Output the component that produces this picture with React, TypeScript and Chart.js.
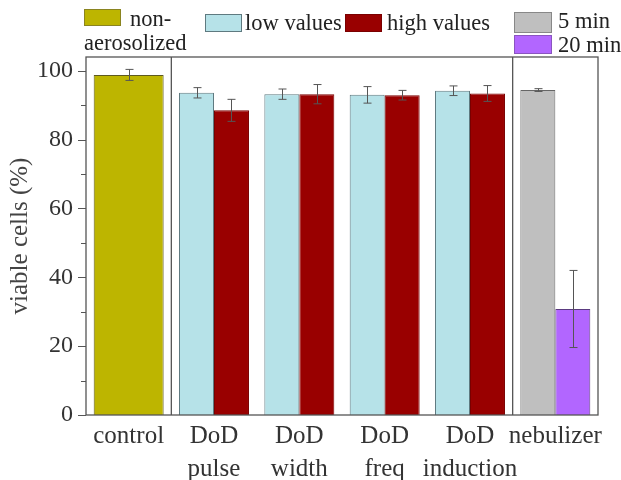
import { useEffect, useRef } from 'react';
import { Chart, registerables } from 'chart.js';
Chart.register(...registerables);

const categories = [['control'], ['DoD', 'pulse'], ['DoD', 'width'], ['DoD', 'freq'], ['DoD', 'induction'], ['nebulizer']];
const controlValues = [98.8, null, null, null, null, null];
const controlErrors = [1.6, null, null, null, null, null];
const lowValues = [null, 93.6, 93.2, 93.0, 94.2, null];
const lowErrors = [null, 1.5, 1.5, 2.4, 1.4, null];
const highValues = [null, 88.5, 93.2, 92.9, 93.4, null];
const highErrors = [null, 3.2, 2.8, 1.4, 2.3, null];
const fiveMinValues = [null, null, null, null, null, 94.4];
const fiveMinErrors = [null, null, null, null, null, 0.4];
const twentyMinValues = [null, null, null, null, null, 30.8];
const twentyMinErrors = [null, null, null, null, null, 11.2];
const yTickValues = [0, 20, 40, 60, 80, 100];

const errorSets = [controlErrors, lowErrors, highErrors, fiveMinErrors, twentyMinErrors];
const FONT = "'Liberation Serif', 'Times New Roman', serif";

const decorPlugin = {
  id: 'decor',
  afterDatasetsDraw(chart: any) {
    const ctx = chart.ctx;
    const ys = chart.scales.y;
    const xs = chart.scales.x;
    const a = chart.chartArea;
    ctx.save();
    // error bars
    ctx.strokeStyle = '#555';
    ctx.lineWidth = 1;
    chart.data.datasets.forEach((ds: any, d: number) => {
      const meta = chart.getDatasetMeta(d);
      ds.data.forEach((v: any, i: number) => {
        const e = errorSets[d][i];
        if (v == null || e == null) return;
        const el = meta.data[i];
        const x = Math.round(el.x) + 0.5;
        const yt = ys.getPixelForValue(v + e);
        const yb = ys.getPixelForValue(v - e);
        ctx.beginPath();
        ctx.moveTo(x, yt); ctx.lineTo(x, yb);
        ctx.moveTo(x - 4, yt); ctx.lineTo(x + 4, yt);
        ctx.moveTo(x - 4, yb); ctx.lineTo(x + 4, yb);
        ctx.stroke();
      });
    });
    // separators
    ctx.strokeStyle = '#555';
    ctx.lineWidth = 1.3;
    [[0, 1], [4, 5]].forEach(([p, q]) => {
      const x = (xs.getPixelForValue(p) + xs.getPixelForValue(q)) / 2;
      ctx.beginPath();
      ctx.moveTo(x, a.top); ctx.lineTo(x, a.bottom);
      ctx.stroke();
    });
    // frame
    ctx.strokeRect(a.left, a.top, a.right - a.left, a.bottom - a.top);
    // y ticks (major + minor)
    ctx.lineWidth = 1;
    for (let v = 0; v <= 100; v += 10) {
      const y = Math.round(ys.getPixelForValue(v)) + 0.5;
      const len = v % 20 === 0 ? 8 : 5;
      ctx.beginPath();
      ctx.moveTo(a.left - len, y); ctx.lineTo(a.left, y);
      ctx.stroke();
    }
    ctx.restore();
  },
};

export default function App() {
  const ref = useRef<HTMLCanvasElement>(null);
  useEffect(() => {
    const chart = new Chart(ref.current!, {
      type: 'bar',
      data: {
        labels: categories,
        datasets: [
          { label: 'non-aerosolized', data: controlValues, backgroundColor: '#bdb500', borderColor: '#5e5a20', borderWidth: 1, skipNull: true },
          { label: 'low values', data: lowValues, backgroundColor: '#b6e2e8', borderColor: '#5f7a80', borderWidth: 1, skipNull: true },
          { label: 'high values', data: highValues, backgroundColor: '#990000', borderColor: '#7a0000', borderWidth: 1, skipNull: true },
          { label: '5 min', data: fiveMinValues, backgroundColor: '#bfbfbf', borderColor: '#666', borderWidth: 1, skipNull: true },
          { label: '20 min', data: twentyMinValues, backgroundColor: '#b266ff', borderColor: '#5a3a80', borderWidth: 1, skipNull: true },
        ] as any,
      },
      options: {
        animation: false,
        responsive: false,
        devicePixelRatio: 1,
        layout: { padding: { top: 57, right: 23, left: 0, bottom: 0 } },
        datasets: { bar: { categoryPercentage: 0.82, barPercentage: 1.0 } },
        plugins: { legend: { display: false }, tooltip: { enabled: false } },
        scales: {
          x: {
            grid: { display: false, drawTicks: false },
            border: { display: false },
            ticks: { font: { family: FONT, size: 25, lineHeight: 1.32 }, color: '#333', padding: 5, maxRotation: 0, autoSkip: false },
            afterFit: (s: any) => { s.height = 65; },
          },
          y: {
            min: 0,
            max: 104,
            afterBuildTicks: (s: any) => { s.ticks = yTickValues.map((v) => ({ value: v })); },
            grid: { display: false, drawTicks: false },
            border: { display: false },
            ticks: { font: { family: FONT, size: 24 }, color: '#333', padding: 13 },
            title: { display: true, text: 'viable cells (%)', font: { family: FONT, size: 25 }, color: '#444', padding: { top: 5, bottom: 0 } },
            afterFit: (s: any) => { s.width = 86; },
          },
        },
      } as any,
      plugins: [decorPlugin],
    });
    return () => chart.destroy();
  }, []);

  const box = (left: number, top: number, w: number, h: number, color: string, border: string) => (
    <div style={{ position: 'absolute', left, top, width: w, height: h, background: color, border: `1px solid ${border}`, boxSizing: 'border-box' }} />
  );
  const text = (left: number, top: number, t: string) => (
    <div style={{ position: 'absolute', left, top, fontFamily: FONT, fontSize: 22.5, lineHeight: '23px', color: '#222', whiteSpace: 'nowrap' }}>{t}</div>
  );

  return (
    <div style={{ position: 'fixed', left: 0, top: 0, width: 621, height: 480, background: '#fff' }}>
      <canvas ref={ref} width={621} height={480} style={{ position: 'absolute', left: 0, top: 0, width: 621, height: 480 }} />
      {box(84, 9, 37, 17, '#bdb500', '#8a8420')}
      {text(130, 7, 'non-')}
      {text(84, 31, 'aerosolized')}
      {box(205, 14, 37, 18, '#b6e2e8', '#5f7a80')}
      {text(245, 11, 'low values')}
      {box(345, 14, 37, 18, '#990000', '#7a0000')}
      {text(387, 11, 'high values')}
      {box(514, 12, 38, 21, '#bfbfbf', '#888')}
      {text(558, 9, '5 min')}
      {box(514, 35, 38, 19, '#b266ff', '#8a55c0')}
      {text(558, 33, '20 min')}
    </div>
  );
}
